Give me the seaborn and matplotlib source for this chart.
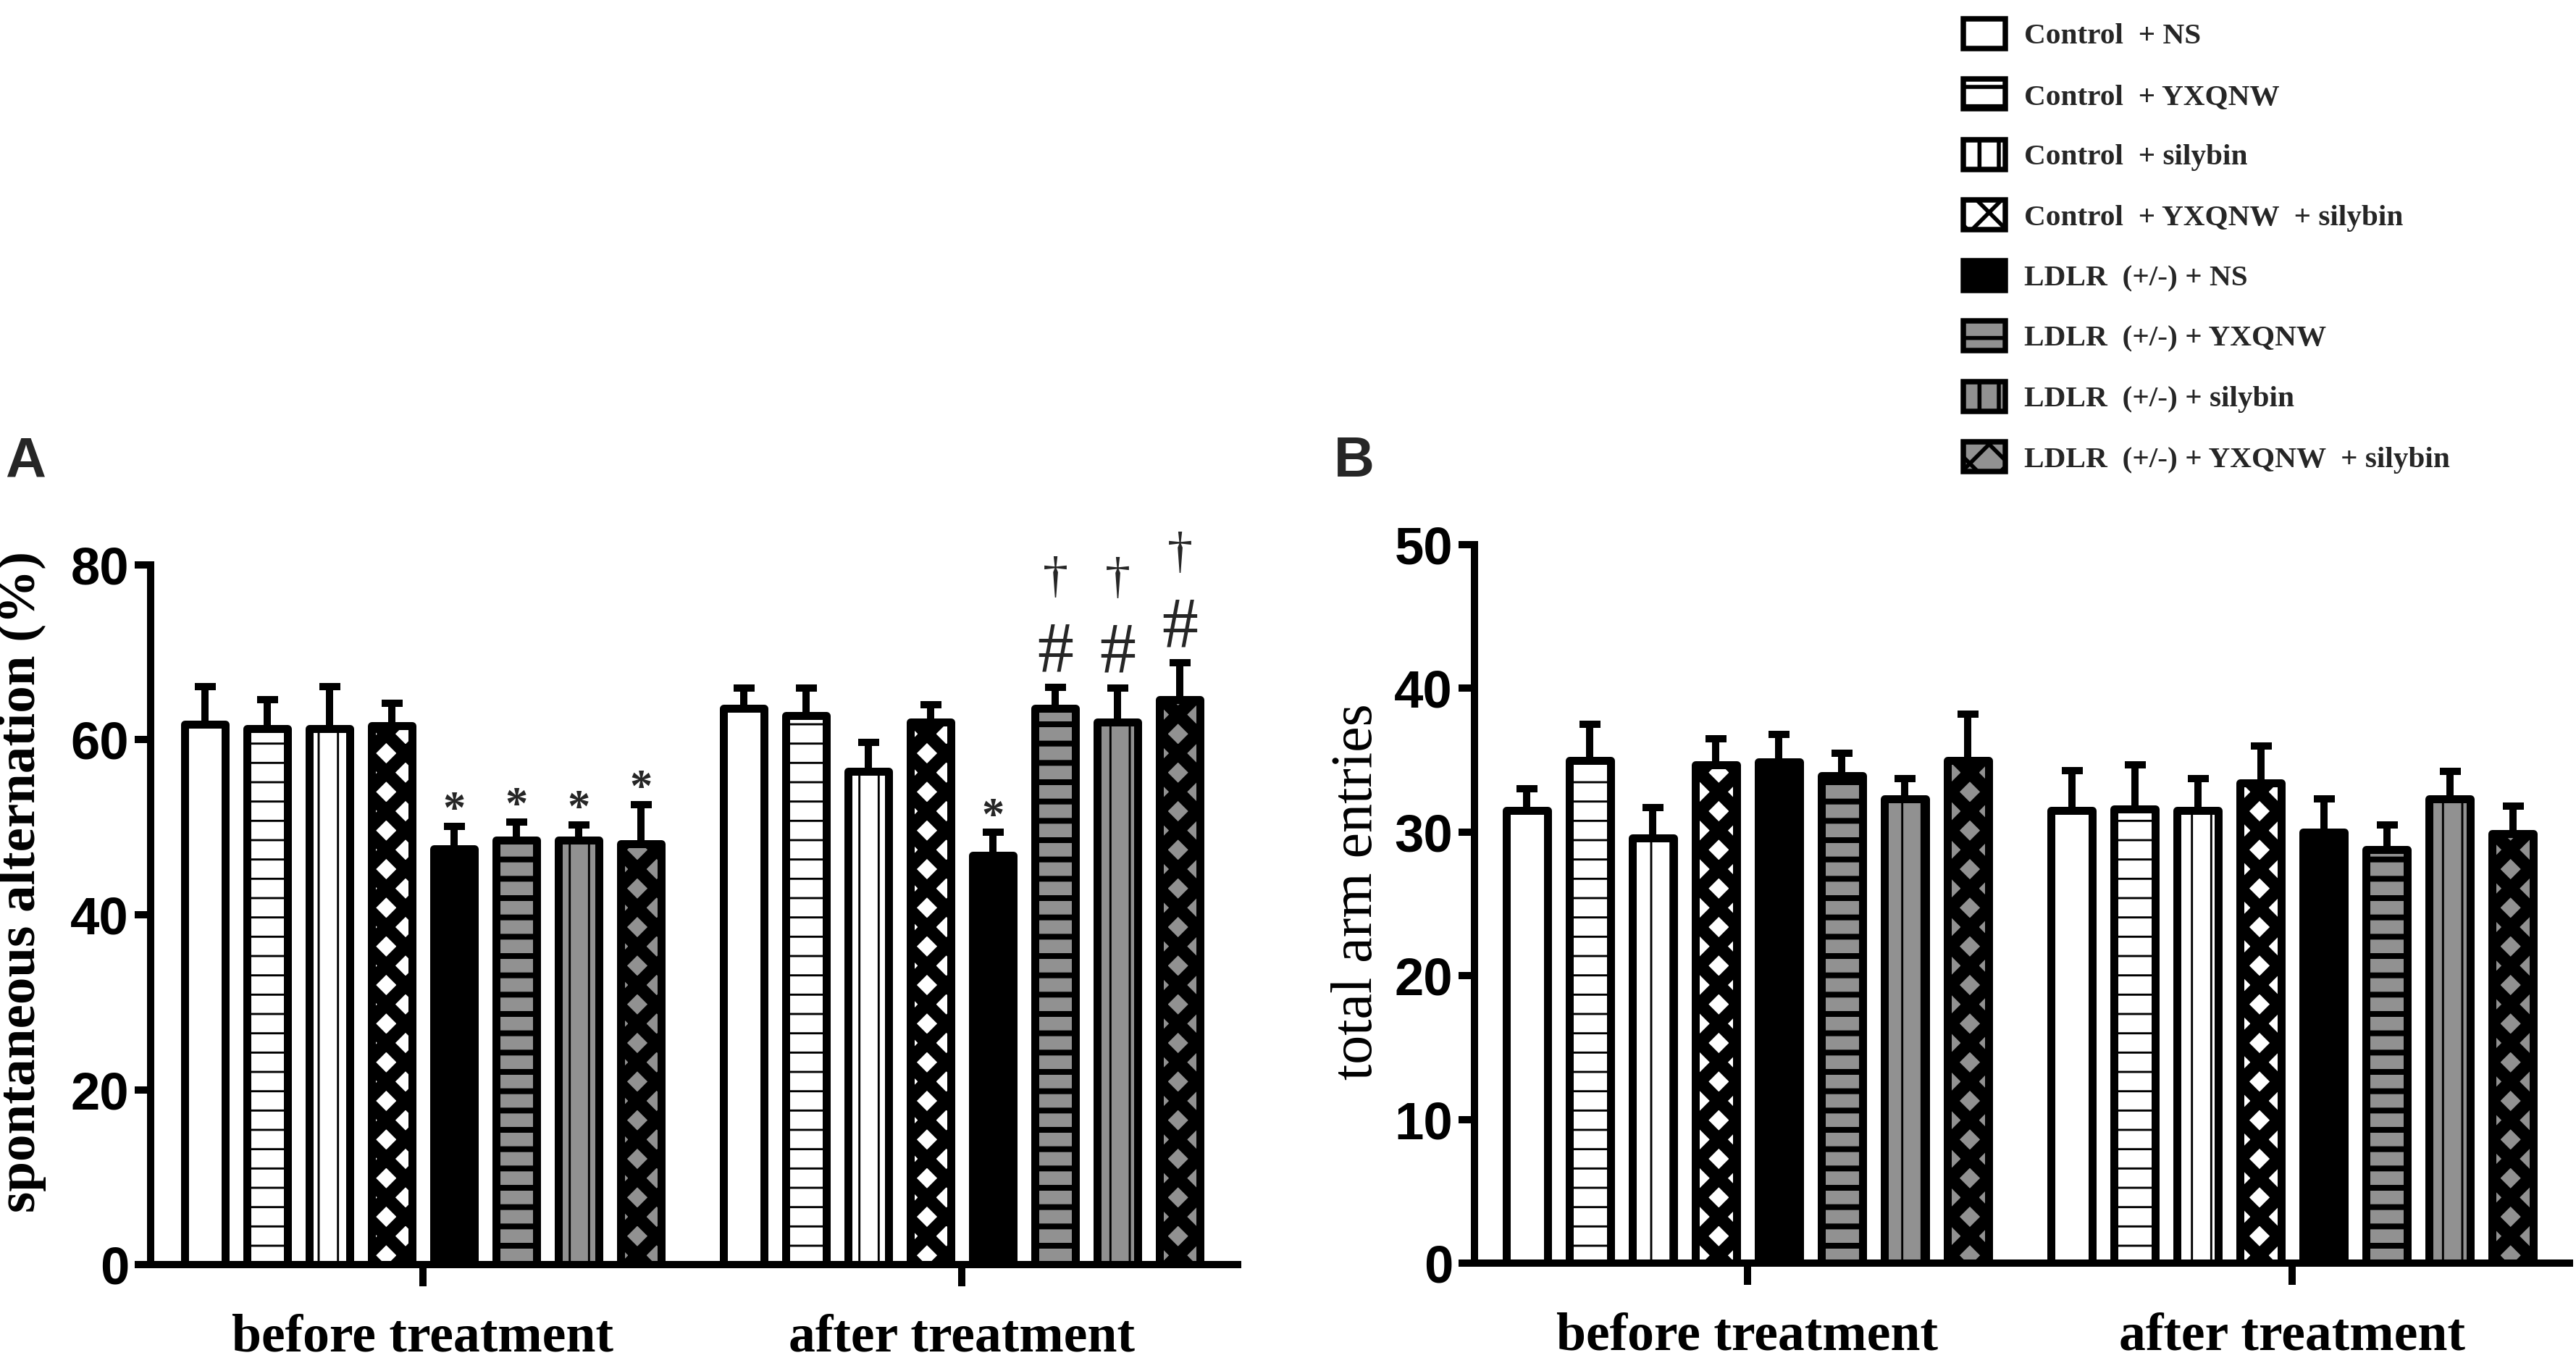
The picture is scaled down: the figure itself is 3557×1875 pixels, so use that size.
import numpy as np
import pandas as pd
import matplotlib
matplotlib.use("Agg")
import matplotlib.pyplot as plt
import matplotlib.patches as mpatches
import seaborn as sns

# ---------------- data ----------------
groups = ["Control  + NS", "Control  + YXQNW", "Control  + silybin",
          "Control  + YXQNW  + silybin", "LDLR  (+/-) + NS",
          "LDLR  (+/-) + YXQNW", "LDLR  (+/-) + silybin",
          "LDLR  (+/-) + YXQNW  + silybin"]
phases = ["before treatment", "after treatment"]

alt_before = [61.8, 61.3, 61.3, 61.6, 47.5, 48.5, 48.5, 48.1]
alt_before_err = [4.3, 3.3, 4.8, 2.6, 2.6, 2.1, 1.8, 4.5]
alt_after = [63.6, 62.8, 56.4, 62.0, 46.8, 63.6, 62.0, 64.6]
alt_after_err = [2.3, 3.1, 3.3, 2.0, 2.6, 2.4, 3.9, 4.2]

ent_before = [31.5, 35.0, 29.6, 34.7, 34.9, 33.9, 32.3, 35.0]
ent_before_err = [1.5, 2.5, 2.1, 1.8, 1.9, 1.6, 1.4, 3.2]
ent_after = [31.5, 31.6, 31.5, 33.4, 30.0, 28.8, 32.3, 29.9]
ent_after_err = [2.8, 3.1, 2.2, 2.6, 2.3, 1.7, 1.9, 1.9]

# significance marks for panel A
mark1_before = ["", "", "", "", "*", "*", "*", "*"]
mark1_after = ["", "", "", "", "*", "#", "#", "#"]
mark2_after = ["", "", "", "", "", "\u2020", "\u2020", "\u2020"]

# ---------------- style ----------------
DPI = 160
K = 180 / DPI  # sizes below were worked out for 180 dpi

GRAY = "#919191"
face = ["white"] * 4 + ["black"] + [GRAY] * 3
hatches = ["", "-", "|", "x", "", "-", "|", "x"]
hatch_lw = [1.0, 1.3, 1.3, 8.0, 1.0, 3.6, 1.3, 8.0]

sns.set_theme(style="ticks")
plt.rcParams["font.family"] = ["Liberation Serif", "DejaVu Sans"]
plt.rcParams["hatch.linewidth"] = 2.5
plt.rcParams["hatch.color"] = "black"

fig = plt.figure(figsize=(3557 / DPI, 1875 / DPI), dpi=DPI)
fig.patch.set_facecolor("white")
axA = fig.add_axes([0.0585, 0.0688, 0.422, 0.5152])
axB = fig.add_axes([0.5724, 0.0699, 0.4251, 0.529])

SANS = ["Liberation Sans", "DejaVu Sans"]
SERIF = ["Liberation Serif", "DejaVu Serif"]


def draw(ax, before, before_err, after, after_err, ymax, step, xlim):
    df = pd.DataFrame({
        "phase": [phases[0]] * len(groups) + [phases[1]] * len(groups),
        "group": groups * 2,
        "value": before + after,
    })
    sns.barplot(data=df, x="phase", y="value", hue="group", order=phases,
                hue_order=groups, palette=dict(zip(groups, face)),
                saturation=1, width=0.925, gap=0.35, edgecolor="black",
                linewidth=4.4 * K, errorbar=None, legend=False, ax=ax,
                zorder=3)
    vals = [before, after]
    errs = [before_err, after_err]
    xs, ys, es = [], [], []
    centers = {}
    for i, cont in enumerate(ax.containers):
        for bar in cont.patches:
            cx = bar.get_x() + bar.get_width() / 2
            j = int(round(cx))
            bar.set_hatch(hatches[i])
            if hasattr(bar, "set_hatch_linewidth"):
                bar.set_hatch_linewidth(hatch_lw[i])
            bar.set_joinstyle("round")
            xs.append(cx)
            ys.append(vals[j][i])
            es.append(errs[j][i])
            centers[(j, i)] = cx
    ax.errorbar(xs, ys, yerr=[np.zeros(len(es)), es], fmt="none",
                ecolor="black", elinewidth=4 * K, capsize=5.8 * K,
                capthick=4 * K, zorder=2)
    ax.set_ylim(0, ymax)
    ax.set_yticks(np.arange(0, ymax + 1, step))
    ax.set_xlim(*xlim)
    ax.set_xlabel("")
    ax.set_ylabel("")
    sns.despine(ax=ax)
    for s in ["left", "bottom"]:
        ax.spines[s].set_linewidth(4 * K)
        ax.spines[s].set_color("black")
    ax.tick_params(axis="y", length=9 * K, width=4 * K, direction="out",
                   pad=3 * K, labelsize=29 * K, colors="black")
    ax.tick_params(axis="x", length=12 * K, width=4 * K, direction="out",
                   pad=15 * K, labelsize=29.5 * K, colors="black")
    for lab in ax.get_yticklabels():
        lab.set_family(SANS)
        lab.set_fontweight("bold")
    for lab in ax.get_xticklabels():
        lab.set_family(SERIF)
        lab.set_fontweight("bold")
    return centers


cA = draw(axA, alt_before, alt_before_err, alt_after, alt_after_err,
          80, 20, (-0.505, 1.512))
cB = draw(axB, ent_before, ent_before_err, ent_after, ent_after_err,
          50, 10, (-0.501, 1.509))

# significance marks (panel A)
for j, (vals, errs, m1) in enumerate([(alt_before, alt_before_err, mark1_before),
                                       (alt_after, alt_after_err, mark1_after)]):
    for i in range(len(groups)):
        cap = vals[i] + errs[i]
        if m1[i] == "*":
            axA.text(cA[(j, i)], cap + 1.65, "*", ha="center", va="center",
                     fontsize=25 * K, fontweight="bold", family=SERIF)
        elif m1[i] == "#":
            axA.text(cA[(j, i)], cap + 3.85, "#", ha="center", va="center",
                     fontsize=40 * K, family=SERIF)
for i in range(len(groups)):
    if mark2_after[i]:
        cap = alt_after[i] + alt_after_err[i]
        axA.text(cA[(1, i)], cap + 12.3, mark2_after[i], ha="center",
                 va="center", fontsize=28 * K, family=SERIF, clip_on=False)

# axis labels
axA.set_ylabel("spontaneous alternation (%)", fontsize=30 * K,
               fontweight="bold", family=SERIF, color="black")
axA.yaxis.set_label_coords(-0.096, 0.547)
axB.set_ylabel("total arm entries", fontsize=32 * K, family=SERIF,
               color="black")
axB.yaxis.set_label_coords(-0.083, 0.517)

# panel letters
fig.text(7 / 3557, 1 - 658 / 1875, "A", ha="left", va="baseline",
         fontsize=31 * K, fontweight="bold", family=SANS)
fig.text(1842 / 3557, 1 - 658 / 1875, "B", ha="left", va="baseline",
         fontsize=31 * K, fontweight="bold", family=SANS)

# legend
handles = []
for i, g in enumerate(groups):
    p = mpatches.Patch(facecolor=face[i], edgecolor="black", hatch=hatches[i],
                       linewidth=3 * K, label=g)
    if hasattr(p, "set_hatch_linewidth"):
        p.set_hatch_linewidth(min(hatch_lw[i], 4.0))
    handles.append(p)
leg = fig.legend(handles=handles, loc="upper left",
                 bbox_to_anchor=(2711 / 3557, 1 - 26 / 1875), frameon=False,
                 prop={"family": SERIF, "weight": "bold", "size": 16.5 * K},
                 handlelength=1.41, handleheight=1.15, labelspacing=0.97,
                 handletextpad=0.63, borderpad=0, borderaxespad=0)

fig.savefig("out.png", dpi=DPI, facecolor="white")
